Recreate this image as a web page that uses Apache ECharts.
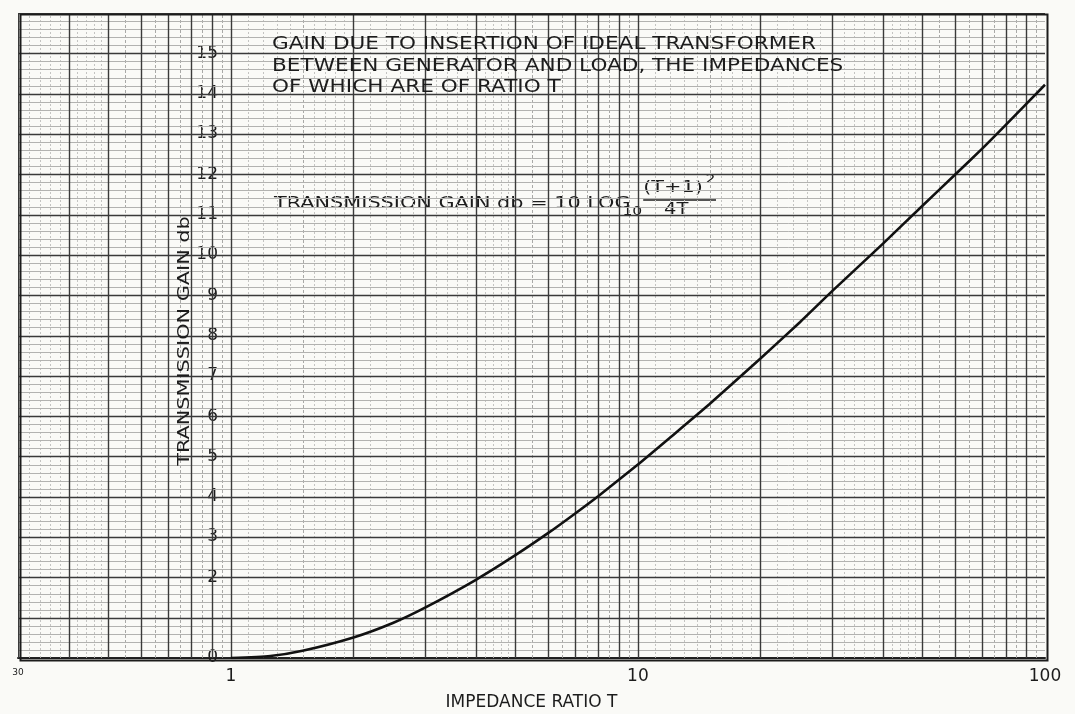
<!DOCTYPE html>
<html>
<head>
<meta charset="utf-8">
<script src="https://cdn.jsdelivr.net/npm/echarts@6/dist/echarts.min.js"></script>
<style>
  html, body { margin: 0; padding: 0; background: #fafaf7; }
  #chart { width: 1075px; height: 714px; }
</style>
</head>
<body>
<div id="chart"></div>
<script>
// Impedance ratio T and the transmission gain (db)
const ratioT = [1, 1.25, 1.5, 2, 2.5, 3, 4, 5, 6, 7, 8, 10, 12, 15, 20, 25, 30, 40, 50, 60, 70, 80, 100];
const gainDb = [0, 0.05, 0.18, 0.51, 0.87, 1.25, 1.94, 2.55, 3.09, 3.58, 4.02, 4.80, 5.47, 6.30, 7.43, 8.33, 9.10, 10.28, 11.22, 11.98, 12.63, 13.22, 14.22];

// Axis ranges and printed tick labels
const xRange = [0.3, 100];
const yRange = [0, 16];
const xTickLabels = { '0.3': '30', '1': '1', '10': '10', '100': '100' };
const yTickLabels = [0, 2, 3, 4, 5, 6, 7, 8, 9, 10, 11, 12, 13, 14, 15];

// Graph-paper rulings: [x, y, orientation (0 vertical / 1 horizontal), weight]
const paperRulings = [];
(function buildRulings() {
  [0.1, 1, 10].forEach(function (d) {
    for (let n = 1; n <= 9; n++) {
      const v = n * d;
      if (v >= xRange[0] - 1e-9 && v <= xRange[1] + 1e-9) paperRulings.push([v, 0, 0, 3]);
      const step = n < 2 ? 0.1 : (n < 5 ? 0.2 : 0.5);
      for (let s = n + step; s < n + 1 - 1e-9; s += step) {
        const f = s * d;
        if (f > xRange[0] && f < xRange[1]) {
          const mid = Math.abs((s - n) - 0.5) < 1e-6;
          paperRulings.push([f, 0, 0, mid ? 1 : 0]);
        }
      }
    }
  });
  for (let i = 0; i <= 80; i++) {
    paperRulings.push([1, i / 5, 1, i % 5 === 0 ? 3 : 2]);
  }
})();

const rulingStyle = [
  { stroke: '#c4c4c2', lineWidth: 1, lineDash: [2, 2] },   // fine vertical
  { stroke: '#a9a9a7', lineWidth: 1, lineDash: [3, 2] },   // half-step vertical
  { stroke: '#b2b2b0', lineWidth: 1, lineDash: null },     // fifth-db horizontal
  { stroke: '#3a3a3a', lineWidth: 1.4, lineDash: null }    // major rulings
];

const letterFont = '"DejaVu Sans", "Liberation Sans", sans-serif';
const ink = '#1c1c1c';

const chart = echarts.init(document.getElementById('chart'), null, { renderer: 'canvas' });

chart.setOption({
  backgroundColor: '#fafaf7',
  animation: false,
  grid: { left: 18, right: 30, top: 13, bottom: 56, outerBoundsMode: 'none', containLabel: false },
  xAxis: {
    type: 'log',
    logBase: 10,
    min: xRange[0],
    max: xRange[1],
    name: 'IMPEDANCE RATIO T',
    nameLocation: 'middle',
    nameGap: 36,
    nameTextStyle: { fontFamily: letterFont, fontSize: 17, color: ink },
    axisLine: { show: true, lineStyle: { color: ink, width: 2 } },
    axisTick: { show: false },
    splitLine: { show: false },
    axisLabel: {
      show: true,
      showMinLabel: true,
      showMaxLabel: true,
      margin: 10,
      fontFamily: letterFont,
      fontSize: 17,
      color: ink,
      formatter: function (v) {
        for (const k in xTickLabels) {
          if (Math.abs(Math.log10(v) - Math.log10(+k)) < 1e-6) {
            return k === '0.3' ? '{s|' + xTickLabels[k] + '}' : xTickLabels[k];
          }
        }
        return '';
      },
      rich: { s: { fontSize: 9, fontFamily: letterFont, color: ink, padding: [0, 0, 4, 0] } }
    }
  },
  yAxis: {
    type: 'value',
    min: yRange[0],
    max: yRange[1],
    interval: 1,
    offset: -212,
    axisLine: { show: false },
    axisTick: { show: false },
    splitLine: { show: false },
    axisLabel: {
      margin: 12,
      fontFamily: letterFont,
      fontSize: 17,
      color: ink,
      formatter: function (v) { return yTickLabels.indexOf(v) >= 0 ? String(v) : ''; }
    }
  },
  graphic: [
    {
      type: 'rect', left: 18, top: 12, z: 50, silent: true,
      shape: { width: 1027, height: 646 },
      style: { fill: 'none', stroke: ink, lineWidth: 2 }
    },
    {
      // vertical axis title, lettered wide
      type: 'text', x: 185, y: 341, z: 60, rotation: Math.PI / 2, scaleX: 1.3,
      style: {
        text: 'TRANSMISSION GAIN db', font: '16px ' + letterFont, fill: ink,
        align: 'center', verticalAlign: 'middle'
      }
    },
    {
      type: 'text', x: 272, y: 34, z: 60, scaleX: 1.27,
      style: {
        text: 'GAIN DUE TO INSERTION OF IDEAL TRANSFORMER\nBETWEEN GENERATOR AND LOAD, THE IMPEDANCES\nOF WHICH ARE OF RATIO T',
        font: '17px ' + letterFont, fill: ink, lineHeight: 21.5
      }
    },
    {
      type: 'group', x: 274, y: 196, z: 60, scaleX: 1.3,
      children: [
        { type: 'text', x: 0, y: 0, style: { text: 'TRANSMISSION GAIN db = 10 LOG', font: '16px ' + letterFont, fill: ink } },
        { type: 'text', x: 268, y: 10, style: { text: '10', font: '12px ' + letterFont, fill: ink } },
        { type: 'text', x: 284, y: -16, style: { text: '(T+1)', font: '16px ' + letterFont, fill: ink } },
        { type: 'text', x: 332, y: -22, style: { text: '2', font: '12px ' + letterFont, fill: ink } },
        { type: 'line', shape: { x1: 284, y1: 4, x2: 340, y2: 4 }, style: { stroke: ink, lineWidth: 1.5 } },
        { type: 'text', x: 300, y: 7, style: { text: '4T', font: '15px ' + letterFont, fill: ink } }
      ]
    }
  ],
  series: [
    {
      type: 'custom',
      name: 'paper',
      silent: true,
      clip: true,
      z: 1,
      data: paperRulings,
      renderItem: function (params, api) {
        const vertical = api.value(2) === 0;
        const v = vertical ? api.value(0) : api.value(1);
        const st = rulingStyle[api.value(3)];
        let p1, p2;
        if (vertical) {
          p1 = api.coord([v, yRange[0]]);
          p2 = api.coord([v, yRange[1]]);
          const x = Math.round(p1[0]) + 0.5;
          p1[0] = x; p2[0] = x;
        } else {
          p1 = api.coord([xRange[0], v]);
          p2 = api.coord([xRange[1], v]);
          const y = Math.round(p1[1]) + 0.5;
          p1[1] = y; p2[1] = y;
        }
        return {
          type: 'line',
          z2: api.value(3),
          shape: { x1: p1[0], y1: p1[1], x2: p2[0], y2: p2[1] },
          style: { stroke: st.stroke, lineWidth: st.lineWidth, lineDash: st.lineDash }
        };
      }
    },
    {
      type: 'line',
      name: 'gain',
      z: 10,
      smooth: 0.2,
      showSymbol: false,
      data: ratioT.map(function (t, i) { return [t, gainDb[i]]; }),
      lineStyle: { color: '#111', width: 2.6 }
    }
  ]
});
</script>
</body>
</html>
